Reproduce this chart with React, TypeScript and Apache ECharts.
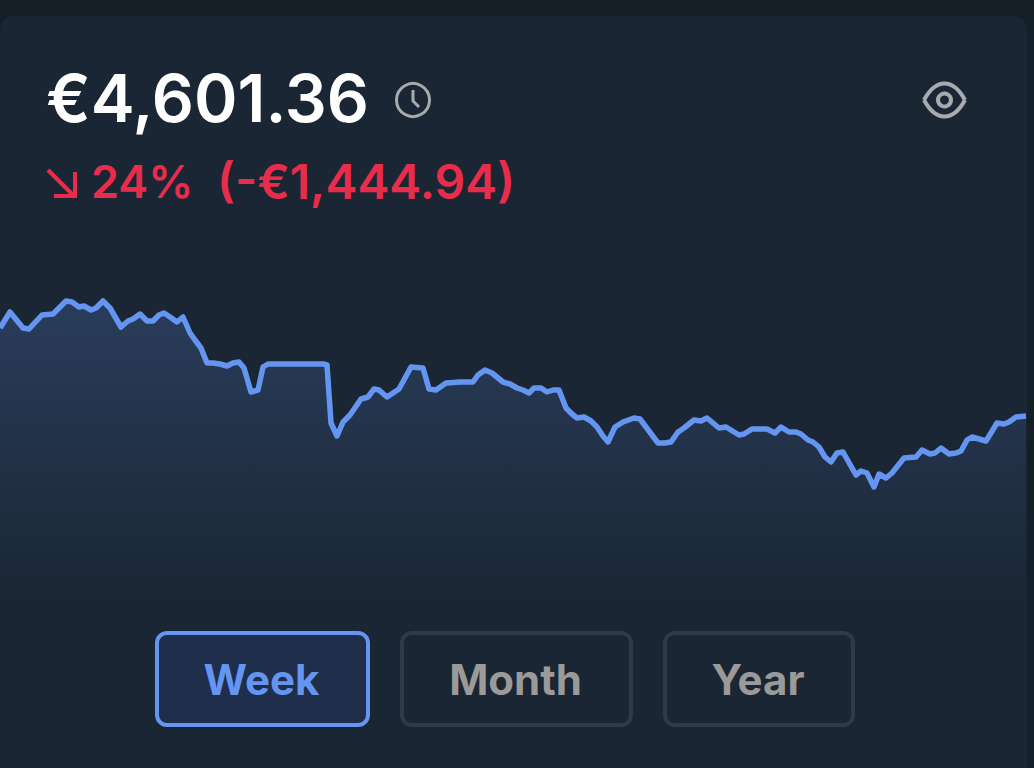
import React, { useEffect, useRef } from "react";
import * as echarts from "echarts";

const balanceText = "€4,601.36";
const changeText = "24%";
const changeAmountText = "(-€1,444.94)";
const rangeLabels = ["Week", "Month", "Year"];

const timeSteps = [
  0, 10, 23, 29, 42, 53, 66, 72, 79, 84, 91, 96, 103, 110, 121, 128, 133, 140, 147, 153, 159, 164, 170, 177, 183, 190, 195, 201, 207, 213,
  220, 227, 233, 239, 244, 251, 258, 263, 268, 323, 327, 331, 337, 343, 350, 361, 368, 374, 379, 387, 399, 411, 423, 429, 436, 446, 460, 473, 478, 485,
  492, 503, 510, 517, 523, 529, 534, 541, 547, 553, 559, 566, 572, 577, 584, 591, 597, 603, 608, 615, 623, 634, 640, 658, 665, 671, 678, 684, 694, 701,
  707, 719, 726, 739, 744, 752, 767, 775, 781, 789, 796, 801, 808, 813, 819, 825, 831, 837, 843, 856, 861, 867, 874, 879, 886, 892, 904, 916, 922, 930,
  935, 941, 949, 956, 961, 967, 972, 986, 997, 1004, 1009, 1016, 1026,
];
const balances = [
  6009, 6265, 6009, 5993, 6217, 6233, 6441, 6425, 6345, 6361, 6297, 6329, 6441, 6329, 6025, 6121, 6153, 6233, 6121, 6121, 6217, 6249, 6185, 6105, 6185, 5929, 5817, 5689, 5449, 5449,
  5433, 5401, 5449, 5465, 5369, 4985, 5017, 5385, 5433, 5433, 5417, 4489, 4281, 4505, 4617, 4873, 4905, 5033, 5017, 4905, 5033, 5385, 5369, 5033, 5017, 5129, 5145, 5145, 5257, 5337,
  5289, 5145, 5113, 5049, 5017, 4969, 5049, 5049, 4985, 5017, 5017, 4729, 4633, 4569, 4585, 4521, 4425, 4281, 4185, 4425, 4505, 4569, 4553, 4169, 4169, 4185, 4345, 4409, 4537, 4521,
  4569, 4409, 4425, 4297, 4313, 4393, 4393, 4329, 4425, 4345, 4345, 4313, 4217, 4185, 4105, 3945, 3865, 4009, 4025, 3657, 3721, 3689, 3465, 3673, 3609, 3689, 3929, 3945, 4057, 3993,
  4009, 4089, 3993, 4009, 4041, 4217, 4265, 4201, 4489, 4473, 4505, 4585, 4601,
];

const FONT = "Inter, 'Noto Sans', sans-serif";
const PAGE = "#141f28";
const CARD = "#1a2633";
const BLUE = "#6495f0";
const RED = "#e82c4b";
const ICON = "#a8abae";

export default function App() {
  const ref = useRef<HTMLDivElement>(null);

  useEffect(() => {
    document.body.style.margin = "0";
    document.body.style.overflow = "hidden";
    const chart = echarts.init(ref.current!, null, { renderer: "svg" });

    const btn = (i: number, x: number, w: number, active: boolean) => [
      {
        type: "rect", z: 10,
        shape: { x, y: 633, width: w, height: 92, r: 10 },
        style: { fill: active ? "#1f2e4a" : CARD, stroke: active ? BLUE : "#2f3a47", lineWidth: 4 },
      },
      {
        type: "text", z: 11, x: x + w / 2 - 1, y: 679,
        style: {
          text: rangeLabels[i], fill: active ? BLUE : "#9a9a9a", font: `700 42px ${FONT}`,
          align: "center", verticalAlign: "middle",
        },
      },
    ];

    chart.setOption({
      animation: false,
      backgroundColor: PAGE,
      grid: { left: 0, top: 250, width: 1026, height: 350, containLabel: false },
      xAxis: { type: "value", min: 0, max: 1026, show: false },
      yAxis: { type: "value", min: 1657, max: 7257, show: false },
      tooltip: { show: false },
      series: [
        {
          type: "line",
          data: timeSteps.map((t, i) => [t, balances[i]]),
          showSymbol: false,
          smooth: false,
          z: 5,
          lineStyle: { color: BLUE, width: 5.5, join: "round" },
          areaStyle: {
            origin: "start",
            color: new echarts.graphic.LinearGradient(0, 0, 0, 1, [
              { offset: 0, color: "#30466d" },
              { offset: 1, color: CARD },
            ]),
          },
        },
      ],
      graphic: [
        {
          type: "rect", z: -10, silent: true,
          shape: { x: 0, y: 16, width: 1027, height: 780, r: 14 },
          style: { fill: CARD },
        },
        {
          type: "text", z: 10, x: 46, y: 98,
          style: { text: balanceText, fill: "#ffffff", font: `600 66px ${FONT}`, align: "left", verticalAlign: "middle" },
        },
        { type: "circle", z: 10, shape: { cx: 413, cy: 100, r: 16.5 }, style: { fill: "none", stroke: ICON, lineWidth: 3 } },
        {
          type: "polyline", z: 10,
          shape: { points: [[413, 90], [413, 101], [419, 107]] },
          style: { fill: "none", stroke: ICON, lineWidth: 3 },
        },
        {
          type: "bezierCurve", z: 10,
          shape: { x1: 924, y1: 100, cpx1: 936, cpy1: 78, cpx2: 953, cpy2: 78, x2: 965, y2: 100 },
          style: { fill: "none", stroke: ICON, lineWidth: 4 },
        },
        {
          type: "bezierCurve", z: 10,
          shape: { x1: 924, y1: 100, cpx1: 936, cpy1: 122, cpx2: 953, cpy2: 122, x2: 965, y2: 100 },
          style: { fill: "none", stroke: ICON, lineWidth: 4 },
        },
        { type: "circle", z: 10, shape: { cx: 944.5, cy: 100, r: 6.5 }, style: { fill: "none", stroke: ICON, lineWidth: 4 } },
        {
          type: "polyline", z: 10,
          shape: { points: [[48, 170], [74, 196]] },
          style: { fill: "none", stroke: RED, lineWidth: 4 },
        },
        {
          type: "polyline", z: 10,
          shape: { points: [[75, 172], [75, 196], [54, 196]] },
          style: { fill: "none", stroke: RED, lineWidth: 4 },
        },
        {
          type: "text", z: 10, x: 91, y: 181,
          style: { text: changeText, fill: RED, font: `600 45px ${FONT}`, align: "left", verticalAlign: "middle" },
        },
        {
          type: "text", z: 10, x: 217, y: 181,
          style: { text: changeAmountText, fill: RED, font: `600 48px ${FONT}`, align: "left", verticalAlign: "middle" },
        },
        ...btn(0, 157, 211, true),
        ...btn(1, 402, 229, false),
        ...btn(2, 665, 188, false),
      ],
    });
    return () => chart.dispose();
  }, []);

  return <div ref={ref} style={{ width: 1034, height: 768 }} />;
}
